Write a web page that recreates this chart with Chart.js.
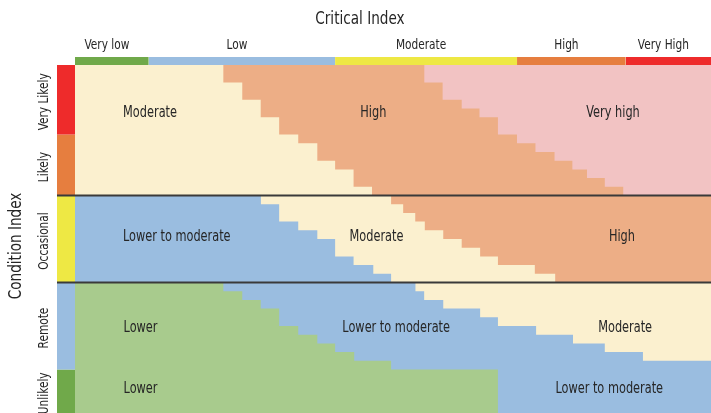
<!DOCTYPE html>
<html lang="en">
<head>
<meta charset="UTF-8">
<title>Critical Index vs Condition Index</title>
<script src="https://cdn.jsdelivr.net/npm/chart.js"></script>
<style>
  html, body { margin: 0; padding: 0; background: #fff; }
  .chart-box { width: 711px; height: 413px; }
</style>
</head>
<body>
<div class="chart-box"><canvas id="riskChart"></canvas></div>
<script>
// x = critical index (0-100 across the matrix), y = condition index (0 bottom, 100 top)
const criticalLabels = ['Very low', 'Low', 'Moderate', 'High', 'Very High'];
const criticalEdges = [0, 11.6, 40.9, 69.5, 86.6, 100];
const conditionLabels = ['Unlikely', 'Remote', 'Occasional', 'Likely', 'Very Likely'];
const conditionEdges = [0, 12.5, 37.5, 62.5, 80, 100];
const blockEdges = [0, 37.5, 62.5, 100];

// staircases: x where a step starts, y = level of that step
const topHighX = [23.3, 26.3, 29.2, 32.1, 35.1, 38.1, 40.9, 43.8, 46.7, 100];
const topHighY = [95, 90, 85, 80, 77.5, 72.5, 70, 65, 62.5, 62.5];
const topVeryHighX = [54.9, 57.8, 60.8, 63.6, 66.5, 69.5, 72.4, 75.4, 78.2, 80.5, 83.3, 86.2, 100];
const topVeryHighY = [95, 90, 87.5, 85, 80, 77.5, 75, 72.5, 70, 67.5, 65, 62.5, 62.5];
const midModerateX = [29.2, 32.1, 35.1, 38.1, 40.9, 43.8, 46.9, 49.7, 100];
const midModerateY = [60, 55, 52.5, 50, 45, 42.5, 40, 37.5, 37.5];
const midHighX = [49.7, 51.6, 53.5, 55.0, 57.9, 60.8, 63.7, 66.5, 72.3, 75.5, 100];
const midHighY = [60, 57.5, 55, 52.5, 50, 47.5, 45, 42.5, 40, 37.5, 37.5];
const lowLowerModX = [23.3, 26.3, 29.2, 32.1, 35.1, 38.1, 40.9, 43.9, 49.7, 66.5, 100];
const lowLowerModY = [35, 32.5, 30, 25, 22.5, 20, 17.5, 15, 12.5, 0, 0];
const lowModerateX = [53.5, 54.9, 57.9, 63.7, 66.5, 72.5, 78.3, 83.3, 89.3, 100];
const lowModerateY = [35, 32.5, 30, 27.5, 25, 22.5, 20, 17.5, 15, 15];

// region text
const regionLabels = ['Moderate', 'High', 'Very high', 'Lower to moderate', 'Moderate', 'High',
  'Lower', 'Lower to moderate', 'Moderate', 'Lower', 'Lower to moderate'];
const regionLabelX = [11.8, 46.9, 84.6, 16.0, 47.4, 86.0, 10.3, 50.5, 86.5, 10.3, 84.0];
const regionLabelY = [86.2, 86.2, 86.2, 50.6, 50.6, 50.6, 24.5, 24.5, 24.5, 6.8, 6.8];

const C = {
  cream: '#fbf0cf', peach: '#edae86', pink: '#f2c3c3', blue: '#9abde0', green: '#a8cb8d',
  barGreen: '#70a94a', barBlue: '#9abde0', barYellow: '#eee844', barOrange: '#e67e3f', barRed: '#ee2b2b'
};
const narrow = "'Liberation Sans Narrow', 'DejaVu Sans Condensed', 'Arial Narrow', sans-serif";
const textColor = '#262626';
const squeeze = 0.84;   // the original lettering is a condensed face
const sideBar = 2.83;   // width of the left colour strip in x units
const topBar = 2.3;     // height of the top colour strip in y units

const pts = (xs, ys) => xs.map((x, i) => ({x, y: ys[i]}));

// paint order: first item is drawn first
const layers = [];
function area(data, color, fill) {
  layers.push({data, backgroundColor: color, fill, stepped: true, borderWidth: 0, pointRadius: 0, pointHoverRadius: 0});
}

// base colour of each block
area(pts([0, 100], [blockEdges[2], blockEdges[2]]), C.cream, {value: 100});
area(pts([0, 100], [blockEdges[1], blockEdges[1]]), C.blue, {value: blockEdges[2]});
area(pts([0, 100], [blockEdges[0], blockEdges[0]]), C.green, {value: blockEdges[1]});
// staircase regions
area(pts(topHighX, topHighY), C.peach, {value: 100});
area(pts(topVeryHighX, topVeryHighY), C.pink, {value: 100});
area(pts(midModerateX, midModerateY), C.cream, {value: blockEdges[2]});
area(pts(midHighX, midHighY), C.peach, {value: blockEdges[2]});
area(pts(lowLowerModX, lowLowerModY), C.blue, {value: blockEdges[1]});
area(pts(lowModerateX, lowModerateY), C.cream, {value: blockEdges[1]});

// colour strips
const stripColors = [C.barGreen, C.barBlue, C.barYellow, C.barOrange, C.barRed];
criticalLabels.forEach((_, i) => {
  area(pts([criticalEdges[i], criticalEdges[i + 1]], [100, 100]), stripColors[i], 'end');
});
conditionLabels.forEach((_, i) => {
  area(pts([-sideBar, 0], [conditionEdges[i], conditionEdges[i]]), stripColors[i], {value: conditionEdges[i + 1]});
});

// black separators
[blockEdges[1], blockEdges[2]].forEach(v => {
  layers.push({data: pts([-sideBar, 100], [v, v]), borderColor: '#3a3a3a', borderWidth: 2,
    fill: false, pointRadius: 0, pointHoverRadius: 0});
});

layers.forEach((ds, i) => { ds.order = layers.length - i; });

function squeezed(ctx, t, x, y) {
  ctx.fillText(t, x, y, ctx.measureText(t).width * squeeze);
}

const textPlugin = {
  id: 'matrixText',
  afterDatasetsDraw(chart) {
    const {ctx, chartArea} = chart;
    const xs = chart.scales.x, ys = chart.scales.y;
    ctx.save();
    ctx.fillStyle = textColor;
    ctx.textAlign = 'center';
    ctx.textBaseline = 'middle';

    ctx.font = '15px ' + narrow;
    regionLabels.forEach((t, i) => {
      squeezed(ctx, t, xs.getPixelForValue(regionLabelX[i]), ys.getPixelForValue(regionLabelY[i]));
    });

    ctx.font = '14px ' + narrow;
    criticalLabels.forEach((t, i) => {
      const cx = (xs.getPixelForValue(criticalEdges[i]) + xs.getPixelForValue(criticalEdges[i + 1])) / 2 - 5;
      squeezed(ctx, t, cx, chartArea.top - 12);
    });
    conditionLabels.forEach((t, i) => {
      const cy = (ys.getPixelForValue(conditionEdges[i]) + ys.getPixelForValue(conditionEdges[i + 1])) / 2 + 2;
      ctx.save();
      ctx.translate(chartArea.left - 13, cy);
      ctx.rotate(-Math.PI / 2);
      squeezed(ctx, t, 0, 0);
      ctx.restore();
    });

    ctx.font = '18px ' + narrow;
    squeezed(ctx, 'Critical Index', xs.getPixelForValue(44.8), 19);
    ctx.translate(chartArea.left - 41, ys.getPixelForValue(48));
    ctx.rotate(-Math.PI / 2);
    squeezed(ctx, 'Condition Index', 0, 0);
    ctx.restore();
  }
};

new Chart(document.getElementById('riskChart'), {
  type: 'line',
  data: {datasets: layers},
  options: {
    responsive: true,
    maintainAspectRatio: false,
    animation: false,
    events: [],
    layout: {padding: {left: 57, top: 57, right: 0, bottom: 0}, autoPadding: false},
    scales: {
      x: {type: 'linear', min: -sideBar, max: 100, display: false},
      y: {type: 'linear', min: 0, max: 100 + topBar, display: false}
    },
    plugins: {
      legend: {display: false},
      tooltip: {enabled: false},
      title: {display: false}
    }
  },
  plugins: [textPlugin]
});
</script>
</body>
</html>
